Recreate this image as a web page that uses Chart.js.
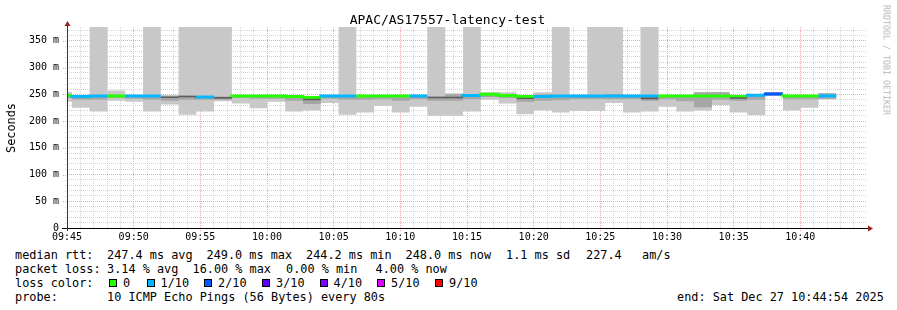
<!DOCTYPE html>
<html><head><meta charset="utf-8">
<script src="https://cdn.jsdelivr.net/npm/chart.js@4/dist/chart.umd.min.js"></script>
<style>
html,body{margin:0;padding:0;background:#fff;width:897px;height:310px;overflow:hidden;font-family:"DejaVu Sans Mono",monospace;}
#wrap{position:relative;width:897px;height:310px;}
canvas{position:absolute;left:0;top:0;}
.t{position:absolute;white-space:pre;color:#000;font-size:11.85px;line-height:14px;}
.box{position:absolute;width:6px;height:6px;border:1px solid #000;}
</style></head><body><div id="wrap">
<canvas id="c" width="897" height="245"></canvas>
<div class="t" style="left:0;width:895px;text-align:center;top:12.5px;font-size:13px;">APAC/AS17557-latency-test</div>
<div class="t" style="left:11px;top:128px;transform:translate(-50%,-50%) rotate(-90deg);">Seconds</div>
<div class="t" style="left:886px;top:60px;transform:translate(-50%,-50%) rotate(90deg);font-size:8.3px;line-height:9px;color:#b4b4b4;">RRDTOOL / TOBI OETIKER</div>

<div class="t" style="left:15px;top:248px;">median rtt:</div>
<div class="t" style="left:107px;top:248px;">247.4 ms avg</div>
<div class="t" style="left:206.5px;top:248px;">249.0 ms max</div>
<div class="t" style="left:306px;top:248px;">244.2 ms min</div>
<div class="t" style="left:405.5px;top:248px;">248.0 ms now</div>
<div class="t" style="left:506px;top:248px;">1.1 ms sd</div>
<div class="t" style="left:586px;top:248px;">227.4</div>
<div class="t" style="left:642px;top:248px;">am/s</div>

<div class="t" style="left:15px;top:261.5px;">packet loss:</div>
<div class="t" style="left:107px;top:261.5px;">3.14 % avg</div>
<div class="t" style="left:192.5px;top:261.5px;">16.00 % max</div>
<div class="t" style="left:286px;top:261.5px;">0.00 % min</div>
<div class="t" style="left:375.5px;top:261.5px;">4.00 % now</div>

<div class="t" style="left:15px;top:275.5px;">loss color:</div>
<div id="lossLegend"></div>

<div class="t" style="left:15px;top:289.5px;">probe:</div>
<div class="t" style="left:107px;top:289.5px;">10 ICMP Echo Pings (56 Bytes) every 80s</div>
<div class="t" style="left:677px;top:289.5px;">end: Sat Dec 27 10:44:54 2025</div>
</div>
<script>
// ---- data ----
const plotStart = "09:45:00";
const plotEnd = "10:45:00";
const sampleTimes = ["09:45:22","09:46:42","09:48:02","09:49:22","09:50:42","09:52:02","09:53:22","09:54:42","09:56:02","09:57:22","09:58:42","10:00:02","10:01:22","10:02:42","10:04:02","10:05:22","10:06:42","10:08:02","10:09:22","10:10:42","10:12:02","10:13:22","10:14:42","10:16:02","10:17:22","10:18:42","10:20:02","10:21:22","10:22:42","10:24:02","10:25:22","10:26:42","10:28:02","10:29:22","10:30:42","10:32:02","10:33:22","10:34:42","10:36:02","10:37:22","10:38:42","10:40:02","10:41:22","10:42:42"];
// slowest ping per step (ms); 400 = beyond the top of the graph
const maxRtt = [255,249,400,257,249,400,249,400,400,400,247,248,248,248,247,249,400,248,248,248,248,400,252,400,254,254,248,254,400,249,400,400,249,400,248,248,254,254.5,248,248,254.5,248,248,252];
// fastest ping per step (ms)
const minRtt = [236,225,218,238,236,218,231,212,218,237,233,224,236,218,220,234,212,216,228,216,227,210,210,218,240,233,213,220,216,219,219,234,216,218,227,218,220,230,216,211.5,247,219.6,225,240.6];
// denser smoke band (ms)
const midHi = [249,246,246,249,246,246,246,248,246,246,246,246,246,246,243,246,246,246,246,246,246,246,250,247,252,250,244,250,246,246,246,250,246,246,246,246,254,254,246,247,254,246,246,252];
const midLo = [243,240,240,243,242,240,238,240,240,240,243,242,242,238,232,242,240,240,241,238,241,238,238,241,245,243,236,238,239,241,241,241,241,238,241,237,226,240,238,240,248,241,241,242];
// densest smoke core (ms), null where none is visible
const coreHi = [null,null,null,null,null,null,246,247.5,null,245,null,null,null,null,242,null,null,null,null,null,null,245.5,245.5,null,null,null,243.5,null,null,null,null,null,null,244,null,null,null,null,244.5,null,null,null,null,null];
const coreLo = [null,null,null,null,null,null,243,244.5,null,242,null,null,null,null,239,null,null,null,null,null,null,242.5,242.5,null,null,null,241.5,null,null,null,null,null,null,241,null,null,null,null,242,null,null,null,null,null];
// median rtt per step (ms)
const median = [248,246,247,247,247,247,245,246,245,244,247,247,247,246,244,247,247,247,247,247,247,244,244,248,250,248,246,246,247,247,247,247,247,247,247,247,247,247,246,248.5,250.5,247,247,247];
// lost pings out of 10 (null: median hidden under smoke)
const loss = [0,1,1,0,1,1,null,null,1,null,0,0,0,0,0,1,1,0,0,0,1,null,null,1,0,0,0,1,1,1,1,1,1,1,0,0,0,0,0,1,2,0,0,1];
const lossLevels = ["0","1/10","2/10","3/10","4/10","5/10","9/10"];
const lossLevelCounts = [0,1,2,3,4,5,9];
const yTicksLabelled = [0,50,100,150,200,250,300,350];

// ---- styles ----
const LOSS_COLORS = {0:'#26ff00',1:'#00b8ff',2:'#0059ff',3:'#5e00ff',4:'#7e00ff',5:'#dd00ff',9:'#ff0000'};
const SMOKE = '#c8c8c8', MID = '#a6a6a6', CORE = '#5c5c5c';
const MINOR = '#d2d2d2', MAJOR = '#f4a6a6', NONE = 'rgba(0,0,0,0)';
const FONT = 'DejaVu Sans Mono';

// loss legend
const legendX = [109,146.5,204,262,319.5,377,435];
const lg = document.getElementById('lossLegend');
lossLevels.forEach((lab,i)=>{
  const b=document.createElement('div'); b.className='box';
  b.style.left=legendX[i]+'px'; b.style.top='279px'; b.style.background=LOSS_COLORS[lossLevelCounts[i]];
  lg.appendChild(b);
  const t=document.createElement('div'); t.className='t'; t.textContent=lab;
  t.style.left=(legendX[i]+14)+'px'; t.style.top='275.5px'; lg.appendChild(t);
});

const toMin = s => { const [h,m,sec]=s.split(':').map(Number); const [h0,m0,s0]=plotStart.split(':').map(Number); return (h*60+m+sec/60)-(h0*60+m0+s0/60); };
const series = arr => [{x:0,y:arr[0]}, ...arr.map((v,i)=>({x:toMin(sampleTimes[i]), y:v}))];
const sampleOf = c => c.p1DataIndex - 1;
const coreHiFull = coreHi.map((v,i)=> v==null ? median[i] : v);
const coreLoFull = coreLo.map((v,i)=> v==null ? median[i] : v);
const fmt = v => { const [h0,m0]=plotStart.split(':').map(Number); const t=h0*60+m0+v; const h=Math.floor(t/60), m=t%60; return String(h).padStart(2,'0')+':'+String(m).padStart(2,'0'); };

// 'after' in Chart.js: the segment p0->p1 takes p1's value (value covers the step ending at its timestamp)
const common = {stepped:'after', pointRadius:0, pointHoverRadius:0, borderWidth:0, borderColor:NONE, tension:0};

const axesPlugin = {
  id:'rrdAxes',
  afterDraw(chart){
    const {ctx, chartArea:a, scales:{x,y}} = chart;
    ctx.save();
    ctx.lineWidth=1; ctx.setLineDash([1,1]);
    for(let v=10; v<=370; v+=10){
      const py=Math.round(y.getPixelForValue(v))+0.5;
      ctx.strokeStyle = v%50===0 ? MAJOR : MINOR;
      ctx.beginPath(); ctx.moveTo(a.left-(v%50===0?4:2), py); ctx.lineTo(a.left, py); ctx.stroke();
    }
    for(let m=1; m<60; m++){
      const px=Math.round(x.getPixelForValue(m))+0.5;
      ctx.strokeStyle = m%5===0 ? MAJOR : MINOR;
      ctx.beginPath(); ctx.moveTo(px, a.bottom); ctx.lineTo(px, a.bottom+(m%5===0?4:2)); ctx.stroke();
    }
    ctx.setLineDash([]);
    ctx.strokeStyle='#000';
    ctx.beginPath(); ctx.moveTo(a.left-5, a.bottom+0.5); ctx.lineTo(a.right+1, a.bottom+0.5); ctx.stroke();
    ctx.strokeStyle='#5e2020';
    ctx.beginPath(); ctx.moveTo(a.left+0.5, a.bottom+3); ctx.lineTo(a.left+0.5, a.top-1); ctx.stroke();
    ctx.fillStyle='#9a2020';
    ctx.beginPath(); ctx.moveTo(a.left+0.5, a.top-6); ctx.lineTo(a.left-2.5, a.top-1); ctx.lineTo(a.left+3.5, a.top-1); ctx.closePath(); ctx.fill();
    ctx.beginPath(); ctx.moveTo(a.right+6, a.bottom+0.5); ctx.lineTo(a.right+1, a.bottom-2.5); ctx.lineTo(a.right+1, a.bottom+3.5); ctx.closePath(); ctx.fill();
    ctx.restore();
  }
};

new Chart(document.getElementById('c'), {
  type:'line',
  data:{ datasets:[
    {...common, label:'max', data:series(maxRtt), fill:'+1', backgroundColor:SMOKE, order:5},
    {...common, label:'min', data:series(minRtt), fill:false, order:5},
    {...common, label:'midHi', data:series(midHi), fill:'+1', backgroundColor:MID, order:4},
    {...common, label:'midLo', data:series(midLo), fill:false, order:4},
    {...common, label:'median', data:series(median), fill:false, borderWidth:3, borderColor:LOSS_COLORS[0], borderCapStyle:'butt',
      segment:{ borderColor: c => { const l=loss[sampleOf(c)]; return l==null ? NONE : LOSS_COLORS[l]; } }, order:3},
    {...common, label:'coreHi', data:series(coreHiFull), fill:'+1', backgroundColor:CORE,
      segment:{ backgroundColor: c => coreHi[sampleOf(c)]==null ? NONE : CORE }, order:2},
    {...common, label:'coreLo', data:series(coreLoFull), fill:false, order:2}
  ]},
  options:{
    responsive:false, animation:false, devicePixelRatio:1,
    layout:{padding:{left:0, right:30, top:27, bottom:0}},
    plugins:{legend:{display:false}, tooltip:{enabled:false}},
    scales:{
      x:{ type:'linear', min:0, max:toMin(plotEnd),
        afterFit(s){ s.height=17; },
        ticks:{ stepSize:1, autoSkip:false, maxRotation:0, minRotation:0, padding:3, color:'#000', font:{family:FONT,size:10},
          callback:v => (v%5===0 && v<60) ? fmt(v) : '' },
        grid:{ drawTicks:false, lineWidth:1, color:c => { const v=c.tick.value; return (v<=0||v>=60)?NONE:(v%5===0?MAJOR:MINOR); } },
        border:{ display:false, dash:[1,1] } },
      y:{ min:0, max:376,
        afterFit(s){ s.width=67; },
        ticks:{ stepSize:10, includeBounds:false, autoSkip:false, padding:8, color:'#000', font:{family:FONT,size:10},
          callback:v => yTicksLabelled.includes(v) ? (v===0?'0':v+' m') : '' },
        grid:{ drawTicks:false, lineWidth:1, color:c => { const v=c.tick.value; return v<=0?NONE:(v%50===0?MAJOR:MINOR); } },
        border:{ display:false, dash:[1,1] } }
    }
  },
  plugins:[axesPlugin]
});
</script>
</body></html>
